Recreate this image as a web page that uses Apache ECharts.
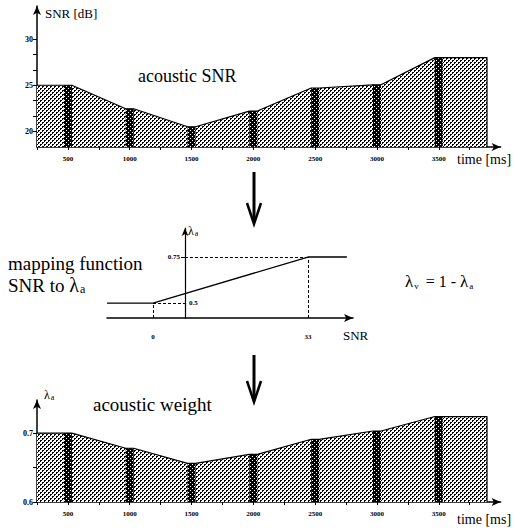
<!DOCTYPE html>
<html><head><meta charset="utf-8">
<script src="https://cdn.jsdelivr.net/npm/echarts@6/dist/echarts.min.js"></script>
<style>html,body{margin:0;padding:0;background:#fff}#c{width:514px;height:528px}</style>
</head><body><div id="c"></div>
<script>
// ---- data ----
const timeMs       = [250, 532, 968, 1032, 1468, 1532, 1968, 2032, 2468, 2532, 2968, 3032, 3468, 3890];
const snrDb        = [25, 25, 22.45, 22.45, 20.5, 20.5, 22.2, 22.2, 24.7, 24.7, 25.05, 25.05, 28, 28];
const weightLambda = [0.70, 0.70, 0.678, 0.678, 0.656, 0.656, 0.669, 0.669, 0.691, 0.691, 0.703, 0.703, 0.724, 0.724];
const bandTimes    = [500, 1000, 1500, 2000, 2500, 3000, 3500];
const bandSnr      = [25, 22.45, 20.5, 22.2, 24.7, 25.05, 28];
const bandWeight   = [0.70, 0.678, 0.656, 0.669, 0.691, 0.703, 0.724];
const timeTickLabels = [500, 1000, 1500, 2000, 2500, 3000, 3500];
const timeTicks      = [250, 500, 750, 1000, 1250, 1500, 1750, 2000, 2250, 2500, 2750, 3000, 3250, 3500, 3750];
const snrTickLabels  = [20, 25, 30];
const snrTicks       = [20, 21.67, 23.33, 25, 26.67, 28.33, 30];
const weightTickLabels = [0.6, 0.7];
const weightTicks      = [0.6, 0.65, 0.7];
const mapSnr       = [-9.8, 0, 33, 41.3];
const mapLambda    = [0.5, 0.5, 0.75, 0.75];
const mapTickLabels = [0, 33];
const mapLambdaLabels = [0.75];
const mapAxisCross = 6.8;   // SNR value where the λa axis is drawn

// ---- axis ranges ----
const snrMin = 18.3, snrMax = 33.6;
const wMin = 0.6, wMax = 0.748;
const mapXMin = -9.8, mapXMax = 42.6, mapYMin = 0.42, mapYMax = 0.907;

function makePattern(dark) {
  const c = document.createElement('canvas');
  c.width = 4; c.height = 4;
  const g = c.getContext('2d');
  g.fillStyle = '#fff'; g.fillRect(0, 0, 4, 4);
  g.fillStyle = '#000';
  if (dark) {
    g.fillRect(0, 0, 4, 4);
    g.fillStyle = '#fff';
    g.fillRect(0, 0, 1, 1); g.fillRect(2, 2, 1, 1);
  } else {
    g.fillRect(0, 0, 2, 1); g.fillRect(0, 1, 1, 1);
    g.fillRect(2, 2, 2, 1); g.fillRect(2, 3, 1, 1);
  }
  return { image: c, repeat: 'repeat', imageWidth: 4, imageHeight: 4 };
}
const lightPat = makePattern(false);
const darkPat = makePattern(true);

const SERIF = "'Liberation Serif', 'Times New Roman', serif";
const pairs = (xs, ys) => xs.map((x, i) => [x, ys[i]]);
const closed = (xs, ys, base) => pairs(xs, ys).concat([[xs[xs.length - 1], base]]);

const axisLine = { lineStyle: { color: '#000', width: 1.5 }, symbol: ['none', 'arrow'], symbolSize: [6, 9] };
const tickLbl = { color: '#000', fontSize: 7, fontFamily: SERIF, fontWeight: 'bold' };

function timeAxis(gridIndex) {
  return {
    type: 'value', gridIndex, min: 250, max: 4000,
    axisLine, splitLine: { show: false },
    axisTick: { customValues: timeTicks, length: 3, lineStyle: { color: '#000', width: 1 } },
    axisLabel: Object.assign({ customValues: timeTickLabels, margin: 8, formatter: v => String(v) }, tickLbl)
  };
}

const chart = echarts.init(document.getElementById('c'), null, { renderer: 'svg' });
const dashed = { color: '#000', type: [3, 2], width: 1 };
const txt = (left, top, text, size) => ({ type: 'text', left, top,
  style: { text, fontSize: size, fontFamily: SERIF, fill: '#000' } });
const sub = (left, top, text, tSize, mSize, sSize, drop, pad) => ({ type: 'text', left, top,
  style: { text, fontSize: tSize, fontFamily: SERIF, fill: '#000',
    rich: { m: { fontSize: mSize, fontFamily: SERIF, verticalAlign: 'bottom' },
            s: { fontSize: sSize, fontFamily: SERIF, verticalAlign: 'bottom', padding: [drop, pad, 0, 1] } } } });

chart.setOption({
  animation: false,
  textStyle: { fontFamily: SERIF },
  grid: [
    { left: 37, top: 6, width: 463.6, height: 141 },
    { left: 107, top: 228, width: 246, height: 90 },
    { left: 37, top: 400, width: 463.6, height: 102 }
  ],
  xAxis: [
    timeAxis(0),
    {
      type: 'value', gridIndex: 1, min: mapXMin, max: mapXMax,
      axisLine, splitLine: { show: false }, axisTick: { show: false },
      axisLabel: Object.assign({ customValues: mapTickLabels, margin: 15 }, tickLbl)
    },
    timeAxis(2)
  ],
  yAxis: [
    {
      type: 'value', gridIndex: 0, min: snrMin, max: snrMax,
      axisLine, splitLine: { show: false },
      axisTick: { customValues: snrTicks, length: 4, lineStyle: { color: '#000', width: 1 } },
      axisLabel: Object.assign({ customValues: snrTickLabels, margin: 4 }, tickLbl, { fontSize: 8 })
    },
    {
      type: 'value', gridIndex: 1, min: mapYMin, max: mapYMax, offset: -78,
      axisLine: { lineStyle: { color: '#000', width: 1.2 }, symbol: ['none', 'arrow'], symbolSize: [5, 8] },
      splitLine: { show: false },
      axisTick: { customValues: mapLambdaLabels, length: 4, lineStyle: { color: '#000' } },
      axisLabel: Object.assign({ customValues: mapLambdaLabels, margin: 5 }, tickLbl)
    },
    {
      type: 'value', gridIndex: 2, min: wMin, max: wMax,
      axisLine, splitLine: { show: false },
      axisTick: { customValues: weightTicks, length: 4, lineStyle: { color: '#000', width: 1 } },
      axisLabel: Object.assign({ customValues: weightTickLabels, margin: 4, formatter: v => v.toFixed(1) }, tickLbl, { fontSize: 8 })
    }
  ],
  series: [
    // top: acoustic SNR
    { type: 'line', xAxisIndex: 0, yAxisIndex: 0, z: 2, symbol: 'none', silent: true,
      data: closed(timeMs, snrDb, snrMin), lineStyle: { width: 0 },
      areaStyle: { color: lightPat, opacity: 1, origin: 'start' } },
    { type: 'bar', xAxisIndex: 0, yAxisIndex: 0, z: 3, barWidth: 8, clip: true, silent: true,
      data: pairs(bandTimes, bandSnr), itemStyle: { color: darkPat } },
    { type: 'line', xAxisIndex: 0, yAxisIndex: 0, z: 4, symbol: 'none', silent: true,
      data: closed(timeMs, snrDb, snrMin), lineStyle: { color: '#000', width: 1.2 } },
    // middle: mapping function
    { type: 'line', xAxisIndex: 1, yAxisIndex: 1, z: 4, symbol: 'none', silent: true,
      data: pairs(mapSnr, mapLambda), lineStyle: { color: '#000', width: 1.3 },
      markLine: {
        silent: true, symbol: 'none', lineStyle: dashed, animation: false,
        label: { show: false },
        data: [
          [{ coord: [mapTickLabels[0], mapYMin] }, { coord: [mapTickLabels[0], mapLambda[1]] }],
          [{ coord: [mapTickLabels[0], mapLambda[1]] },
           { coord: [mapAxisCross, mapLambda[1]],
             label: { show: true, position: 'end', formatter: String(mapLambda[1]), distance: 4,
                      color: '#000', fontSize: 7, fontFamily: SERIF, fontWeight: 'bold' } }],
          [{ coord: [mapAxisCross, mapLambda[2]] }, { coord: [mapTickLabels[1], mapLambda[2]] }],
          [{ coord: [mapTickLabels[1], mapYMin] }, { coord: [mapTickLabels[1], mapLambda[2]] }]
        ]
      } },
    // bottom: acoustic weight
    { type: 'line', xAxisIndex: 2, yAxisIndex: 2, z: 2, symbol: 'none', silent: true,
      data: closed(timeMs, weightLambda, wMin), lineStyle: { width: 0 },
      areaStyle: { color: lightPat, opacity: 1, origin: 'start' } },
    { type: 'bar', xAxisIndex: 2, yAxisIndex: 2, z: 3, barWidth: 8, clip: true, silent: true,
      data: pairs(bandTimes, bandWeight), itemStyle: { color: darkPat } },
    { type: 'line', xAxisIndex: 2, yAxisIndex: 2, z: 4, symbol: 'none', silent: true,
      data: closed(timeMs, weightLambda, wMin), lineStyle: { color: '#000', width: 1.2 } }
  ],
  graphic: [
    txt(45, 7, 'SNR [dB]', 13),
    txt(138, 67, 'acoustic SNR', 18),
    txt(457, 152, 'time [ms]', 14),
    txt(8, 254, 'mapping function', 19),
    sub(8, 275, 'SNR to {m|λ}{s|a}', 19, 20, 12, 4, 0),
    sub(188, 225, '{m|λ}{s|a}', 12, 12, 8, 3, 0),
    txt(343, 329, 'SNR', 13),
    sub(405, 273, '{m|λ}{s|v} = 1 - {m|λ}{s|a}', 16, 17, 9, 4, 3),
    txt(93, 395, 'acoustic weight', 19),
    sub(44, 389, '{m|λ}{s|a}', 12, 12, 8, 2, 0),
    txt(457, 512, 'time [ms]', 14),
    // down arrows
    { type: 'line', shape: { x1: 254, y1: 172, x2: 254, y2: 222 }, style: { stroke: '#000', lineWidth: 3 } },
    { type: 'polyline', shape: { points: [[247, 203], [254, 224], [261, 203]] }, style: { stroke: '#000', lineWidth: 2.5, fill: null } },
    { type: 'line', shape: { x1: 254, y1: 355, x2: 254, y2: 400 }, style: { stroke: '#000', lineWidth: 3 } },
    { type: 'polyline', shape: { points: [[247, 381], [254, 402], [261, 381]] }, style: { stroke: '#000', lineWidth: 2.5, fill: null } }
  ]
});
</script>
</body></html>
